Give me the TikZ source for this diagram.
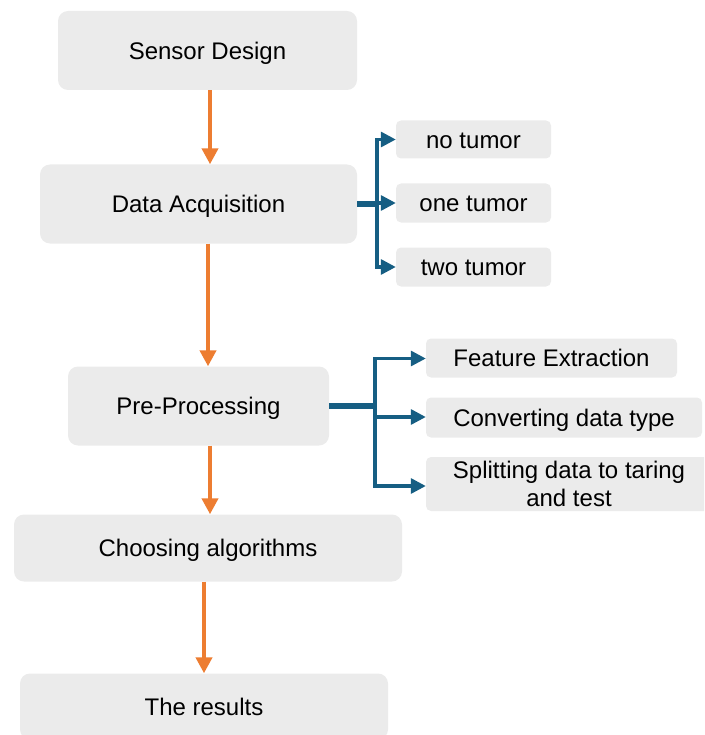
\documentclass[tikz,border=0pt]{standalone}
\usepackage{fontspec}
\setmainfont{Liberation Sans}
\usetikzlibrary{arrows.meta}
\definecolor{boxgray}{RGB}{235,235,235}
\definecolor{arrorange}{RGB}{237,125,49}
\definecolor{brblue}{RGB}{22,94,131}
\begin{document}
\begin{tikzpicture}[x=1pt,y=-1pt,
  basebox/.style={fill=boxgray, draw=none, rounded corners=10pt, inner sep=0pt,
    font=\fontsize{24}{27.6}\selectfont},
  box/.style={basebox, text height=17.2pt, text depth=0pt},
  sbox/.style={box, rounded corners=5pt},
  oarr/.style={draw=arrorange, line width=4pt, -{Triangle[width=16pt,length=16pt]}},
  bstub/.style={draw=brblue, line width=5.5pt},
  bvert/.style={draw=brblue, line width=3.2pt, line cap=rect},
  barr/.style={draw=brblue, line width=3.2pt, -{Triangle[width=15pt,length=15pt]}}
]
\useasboundingbox (0,0) rectangle (704,735);
\clip (0,0) rectangle (704,735);

% main flow
\node[box, minimum width=299pt, minimum height=79pt] (sd) at (207.5,50.5) {Sensor Design};
\node[box, minimum width=317pt, minimum height=79pt] (da) at (198.5,204) {Data Acquisition};
\node[box, minimum width=261pt, minimum height=79pt] (pp) at (198.5,406) {Pre-Processing};
\node[box, minimum width=388pt, minimum height=67pt] (ca) at (208,548) {Choosing algorithms};
\node[box, minimum width=368pt, minimum height=66pt] (re) at (204,706.5) {The results};

% tumor boxes
\node[sbox, minimum width=155pt, minimum height=38pt] (na) at (473.5,139.5) {no tumor};
\node[sbox, minimum width=155pt, minimum height=39pt] (oa) at (473.5,203) {one tumor};
\node[sbox, minimum width=155pt, minimum height=39pt] (ta) at (473.5,267) {two tumor};

% preprocessing boxes
\node[sbox, minimum width=251pt, minimum height=39pt] (fe) at (551.5,358) {Feature Extraction};
\node[sbox, minimum width=276pt, minimum height=40pt] (cd) at (564,417.5) {Converting data type};
\node[basebox, rounded corners=5pt, minimum width=286pt, minimum height=54pt, align=center]
      (sp) at (569,484) {Splitting data to taring\\and test};

% orange arrows
\coordinate (x1) at (210,0);
\coordinate (x2) at (208,0);
\coordinate (x3) at (210,0);
\coordinate (x4) at (204,0);
\draw[oarr] (sd.south -| x1) -- (da.north -| x1);
\draw[oarr] (da.south -| x2) -- (pp.north -| x2);
\draw[oarr] (pp.south -| x3) -- (ca.north -| x3);
\draw[oarr] (ca.south -| x4) -- (re.north -| x4);

% blue bracket 1
\coordinate (v1) at (377,0);
\draw[bstub] (da.east) -- (da.east -| v1);
\draw[bvert] (na.west -| v1) -- (ta.west -| v1);
\draw[barr] (na.west -| v1) -- (na.west);
\draw[barr] (oa.west -| v1) -- (oa.west);
\draw[barr] (ta.west -| v1) -- (ta.west);

% blue bracket 2
\coordinate (v2) at (375,0);
\draw[bstub] (pp.east) -- (pp.east -| v2);
\coordinate (t1) at (0,358.5);
\coordinate (t2) at (0,417);
\coordinate (t3) at (0,486);
\draw[bvert] (t1 -| v2) -- (t3 -| v2);
\draw[barr] (t1 -| v2) -- (t1 -| fe.west);
\draw[barr] (t2 -| v2) -- (t2 -| cd.west);
\draw[barr] (t3 -| v2) -- (t3 -| sp.west);
\end{tikzpicture}
\end{document}
